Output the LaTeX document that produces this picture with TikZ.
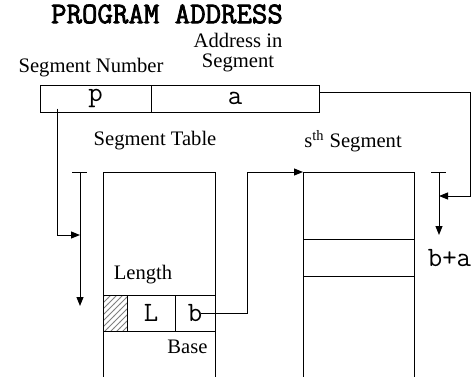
\documentclass[tikz,border=0pt]{standalone}
\usepackage{fontspec}
\setmainfont{Liberation Serif}
\newfontfamily\titlefont{Latin Modern Mono}[FakeBold=2.5]
\usetikzlibrary{positioning,patterns,arrows.meta}
\begin{document}
\begin{tikzpicture}[x=0.5pt,y=-0.5pt,line width=0.5pt,
  lbl/.style={font=\fontsize{10.3}{10}\selectfont,inner sep=0pt,align=center},
  cell/.style={draw,outer sep=0pt,inner sep=0pt,minimum height=13.5pt,
    font=\ttfamily\fontsize{14}{14}\selectfont},
  tip/.style={-{Triangle[length=4.5pt,width=3.5pt]}}]
\clip (0,0) rectangle (472,376);
% program address
\node[font=\titlefont\fontsize{15}{15}\selectfont] (title) at (167,14) {PROGRAM ADDRESS};
\node[cell,minimum width=55.5pt] (p) at (95.5,98.5) {p};
\node[cell,minimum width=84pt,right=0pt of p] (a) {a};
\node[lbl] (segnum) at (91,68) {Segment Number};
\node[lbl] (addrin) at (238,53) {Address in\\Segment};
% segment table
\node[lbl] (tabname) at (155,141) {Segment Table};
\node[draw,minimum width=56pt,minimum height=114pt,outer sep=0pt] (tab) at (159,286) {};
\node[cell,minimum width=12pt,minimum height=18pt,pattern=north east lines,pattern color=gray] (h) at (115,313) {};
\node[cell,minimum width=24pt,minimum height=18pt,right=0pt of h] (L) {L};
\node[cell,minimum width=20pt,minimum height=18pt,right=0pt of L] (b) {b};
\node[lbl] (len) at (143,275) {Length};
\node[lbl] (base) at (187.5,347) {Base};
% s-th segment
\node[lbl] (segname) at (353,141) {s\textsuperscript{th} Segment};
\node[draw,minimum width=55.5pt,minimum height=114pt,outer sep=0pt] (seg) at (358.5,286) {};
\node[draw,minimum width=55.5pt,minimum height=18.5pt,outer sep=0pt] (slot) at (358.5,257.5) {};
\node[font=\ttfamily\fontsize{14}{14}\selectfont,inner sep=0pt] (sum) at (449.5,258) {b+a};
% scales
\coordinate (ltop) at (80,172);
\coordinate (lbot) at (80,306);
\coordinate (lhit) at (80,235);
\coordinate (rtop) at (439,172);
\coordinate (rbot) at (439,235);
\coordinate (rhit) at (439,196);
\draw[tip] (ltop) -- (lbot);
\draw ([xshift=-4pt]ltop) -- ([xshift=3.5pt]ltop);
\draw[tip] (rtop) -- (rbot);
\draw ([xshift=-4pt]rtop) -- ([xshift=3.5pt]rtop);
% connectors
\draw[tip] ([shift={(-19pt,-5pt)}]p.center) |- (lhit);
\draw[tip] ([xshift=3pt]b.center) -- ++(23pt,0) |- (seg.north west);
\draw[tip] ([yshift=3.25pt]a.east) -- ++(75.5pt,0) |- (rhit);
\end{tikzpicture}
\end{document}
